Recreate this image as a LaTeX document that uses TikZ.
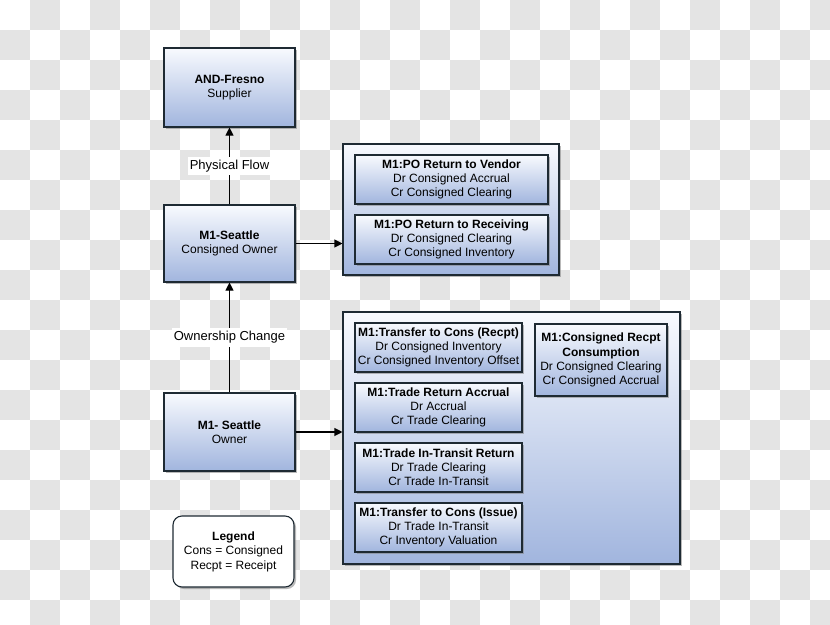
\documentclass[tikz,border=0pt]{standalone}
\usepackage{fontspec}
\setmainfont{Liberation Sans}
\usetikzlibrary{shadows,arrows.meta}
\definecolor{gbot}{HTML}{A1B5DE}
\definecolor{gtop}{HTML}{F8FAFE}
\definecolor{chk}{HTML}{E4E4E4}
\definecolor{edge}{HTML}{1E2A33}
\tikzset{
  boxshadow/.style={drop shadow={shadow xshift=2pt, shadow yshift=-2pt, fill=black!50, opacity=0.55}},
  box/.style={draw=edge, line width=1.1pt, top color=gtop, bottom color=gbot, boxshadow,
    align=center, inner sep=0pt, font=\fontsize{12}{14.2}\selectfont},
  grp/.style={draw=edge, line width=1.1pt, top color=gtop, bottom color=gbot, boxshadow, inner sep=0pt},
  legendbox/.style={draw=edge, line width=1.1pt, fill=white, rounded corners=9pt, boxshadow,
    align=center, inner sep=0pt, font=\fontsize{12}{14.5}\selectfont},
  conn/.style={line width=1.1pt, -{Triangle[length=8pt,width=8pt]}},
  lbl/.style={fill=white, inner xsep=2pt, inner ysep=3pt, font=\fontsize{13}{15}\selectfont}
}
\begin{document}
\begin{tikzpicture}[x=1pt,y=-1pt]
\useasboundingbox (0,0) rectangle (830,624);
\begin{scope}
\clip (0,0) rectangle (830,624);
\foreach \i in {0,...,27}{\foreach \j in {0,...,20}{
  \pgfmathtruncatemacro\s{mod(\i+\j,2)}
  \ifnum\s=1 \fill[chk] (\i*30,\j*30) rectangle ++(30,30);\fi}}
\end{scope}

% left column
\node[box, minimum width=131pt, minimum height=79pt] (fresno) at (229.5,87.5) {\textbf{AND-Fresno}\\Supplier};
\node[box, minimum width=131pt, minimum height=77pt] (cowner) at (229.5,243.5) {\textbf{M1-Seattle}\\Consigned Owner};
\node[box, minimum width=131pt, minimum height=78pt] (owner) at (229.5,432) {\textbf{M1- Seattle}\\Owner};
\node[legendbox, minimum width=121pt, minimum height=71pt] (legend) at (233.5,551.5) {\textbf{Legend}\\Cons = Consigned\\Recpt = Receipt};

% top group
\node[grp, minimum width=216pt, minimum height=131pt] (topgrp) at (451,209.5) {};
\node[box, minimum width=193pt, minimum height=49pt] (po1) at (451.5,179.5) {\textbf{M1:PO Return to Vendor}\\Dr Consigned Accrual\\Cr Consigned Clearing};
\node[box, minimum width=193pt, minimum height=49pt] (po2) at (451.5,239.5) {\textbf{M1:PO Return to Receiving}\\Dr Consigned Clearing\\Cr Consigned Inventory};

% bottom group
\node[grp, minimum width=337pt, minimum height=252pt] (botgrp) at (511.5,438) {};
\node[box, minimum width=167pt, minimum height=49pt] (ta) at (438.5,347.5) {\textbf{M1:Transfer to Cons (Recpt)}\\Dr Consigned Inventory\\Cr Consigned Inventory Offset};
\node[box, minimum width=167pt, minimum height=49pt] (tb) at (438.5,407.5) {\textbf{M1:Trade Return Accrual}\\Dr Accrual\\Cr Trade Clearing};
\node[box, minimum width=167pt, minimum height=49pt] (tc) at (438.5,467.5) {\textbf{M1:Trade In-Transit Return}\\Dr Trade Clearing\\Cr Trade In-Transit};
\node[box, minimum width=167pt, minimum height=49pt] (td) at (438.5,527.5) {\textbf{M1:Transfer to Cons (Issue)}\\Dr Trade In-Transit\\Cr Inventory Valuation};
\node[box, minimum width=132pt, minimum height=72pt] (te) at (601,360) {\textbf{M1:Consigned Recpt}\\\textbf{Consumption}\\Dr Consigned Clearing\\Cr Consigned Accrual};

% connectors
\draw[conn] (cowner.north) -- node[lbl] {Physical Flow} (fresno.south);
\draw[conn] (owner.north) -- node[lbl] {Ownership Change} (cowner.south);
\draw[conn] (cowner.east) -- (cowner.east -| topgrp.west);
\draw[conn] (owner.east) -- (owner.east -| botgrp.west);
\end{tikzpicture}
\end{document}
